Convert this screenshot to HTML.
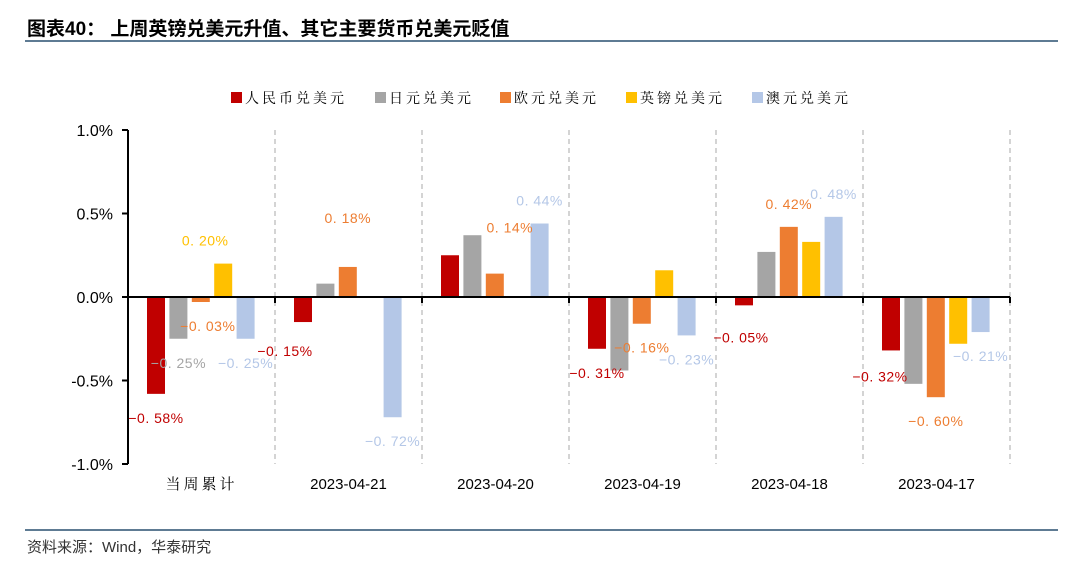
<!DOCTYPE html>
<html><head><meta charset="utf-8">
<style>
body{margin:0;background:#fff;width:1070px;height:569px;overflow:hidden;}
svg{display:block;}
.cjk{font-family:"Liberation Serif","Noto Serif CJK SC","Noto Sans CJK SC",serif;}
.sans{font-family:"Liberation Sans","Noto Sans CJK SC",sans-serif;}
</style></head>
<body>
<svg id="chart" width="1070" height="569" xmlns="http://www.w3.org/2000/svg">
<text x="27" y="35" class="sans" font-size="19" font-weight="bold" fill="#000">图表40：  上周英镑兑美元升值、其它主要货币兑美元贬值</text>
<rect x="25" y="40" width="1033" height="2" fill="#5e7b93"/>
<rect x="25" y="529" width="1033" height="2" fill="#5e7b93"/>
<text x="27" y="552" class="sans" font-size="15" fill="#333">资料来源：Wind，华泰研究</text>
<g id="legend"></g>
<g id="grid"></g>
<g id="bars"></g>
<g id="labels"></g>
<g id="axes"></g>
</svg>
<script>
const categories=["当周累计","2023-04-21","2023-04-20","2023-04-19","2023-04-18","2023-04-17"];
const seriesNames=["人民币兑美元","日元兑美元","欧元兑美元","英镑兑美元","澳元兑美元"];
const cny=[-0.58,-0.15,0.25,-0.31,-0.05,-0.32];
const jpy=[-0.25,0.08,0.37,-0.44,0.27,-0.52];
const eur=[-0.03,0.18,0.14,-0.16,0.42,-0.60];
const gbp=[0.20,0,0,0.16,0.33,-0.28];
const aud=[-0.25,-0.72,0.44,-0.23,0.48,-0.21];
const yTicks=[1.0,0.5,0.0,-0.5,-1.0];
const yTickLabels=["1.0%","0.5%","0.0%","-0.5%","-1.0%"];
const shownLabels=[
 [1,1,0,1,1,1],
 [1,0,0,0,0,0],
 [1,1,1,1,1,1],
 [1,0,0,0,0,0],
 [1,1,1,1,1,1]];
const series=[cny,jpy,eur,gbp,aud];
const colors=["#c00000","#a5a5a5","#ed7d31","#ffc000","#b4c7e7"];
const dataNamesS=["cny","jpy","eur","gbp","aud"];
// label tweaks (style, not data)
const tweak={"2-0":[7,0],"3-0":[-18,0],"0-1":[-18,5],"2-1":[0,-26],"2-2":[15,-23],"0-4":[-3,8],"0-5":[-11,2]};

const NS="http://www.w3.org/2000/svg";
const X0=128,X1=1010,Y0=297,PPU=167;
const gw=(X1-X0)/categories.length;
function y(v){return Y0-v*PPU;}
function gx(i){return X0+i*gw;}
function mk(tag,attrs,parent){const e=document.createElementNS(NS,tag);for(const k in attrs)e.setAttribute(k,attrs[k]);parent.appendChild(e);return e;}
const svg=document.getElementById('chart');
const grid=document.getElementById('grid'),bars=document.getElementById('bars'),labels=document.getElementById('labels'),axes=document.getElementById('axes'),legend=document.getElementById('legend');

// legend
const lx=[231,375,500,626,752];
seriesNames.forEach((n,i)=>{
 const r=mk('rect',{x:lx[i],y:92,width:11,height:11,fill:colors[i]},legend);
 
 
 const t=mk('text',{x:lx[i]+14,y:103,'font-size':14,'letter-spacing':'3',class:'cjk',fill:'#000'},legend);
 t.textContent=n;
 
 
});

// dashed separators
for(let i=1;i<=categories.length;i++){
 const l=mk('line',{x1:gx(i),x2:gx(i),y1:130,y2:464,stroke:'#aaa','stroke-dasharray':'5,4','stroke-width':1},grid);
 
 
}

// bars
categories.forEach((c,i)=>{
 series.forEach((s,j)=>{
  const v=s[i];
  const bx=gx(i)+19+j*22.4;
  const top=Math.min(y(v),Y0),h=Math.abs(y(v)-Y0);
  if(h>0){
   const r=mk('rect',{x:bx,y:top,width:18,height:h,fill:colors[j]},bars);
   
   
  }
  if(shownLabels[j][i]){
   const tw=tweak[j+'-'+i]||[0,0];
   const ly=(v>=0? y(v)-23 : y(v)+24)+tw[1];
   const t=mk('text',{x:bx+9+tw[0],y:ly+5,'text-anchor':'middle','font-size':14,'letter-spacing':'0.5',class:'sans',fill:colors[j]==="#ffc000"?"#ffc000":colors[j]},labels);
   t.textContent=(v<0?"−":"")+Math.abs(v).toFixed(2).replace('.','. ')+"%";
   
   
  }
 });
 const ct=mk('text',{x:gx(i)+gw/2,y:489,'text-anchor':'middle','font-size':15,class:i===0?'cjk':'sans',fill:'#000','letter-spacing':i===0?'3':'0'},axes);
 ct.textContent=c;
 
 
});

// axes
const ya=mk('line',{x1:X0,x2:X0,y1:130,y2:464,stroke:'#000','stroke-width':2},axes);


yTicks.forEach((v,i)=>{
 const tk=mk('line',{x1:X0-6,x2:X0,y1:y(v),y2:y(v),stroke:'#000','stroke-width':2},axes);
 
 
 const t=mk('text',{x:X0-15,y:y(v)+6,'text-anchor':'end','font-size':16,class:'sans',fill:'#000'},axes);
 t.textContent=yTickLabels[i];
 
 
});
const xa=mk('line',{x1:X0,x2:X1,y1:Y0,y2:Y0,stroke:'#000','stroke-width':2},axes);


for(let i=0;i<=categories.length;i++){
 const tk=mk('line',{x1:gx(i),x2:gx(i),y1:Y0,y2:Y0+6,stroke:'#000','stroke-width':2},axes);
 
 
}
</script>
</body></html>
